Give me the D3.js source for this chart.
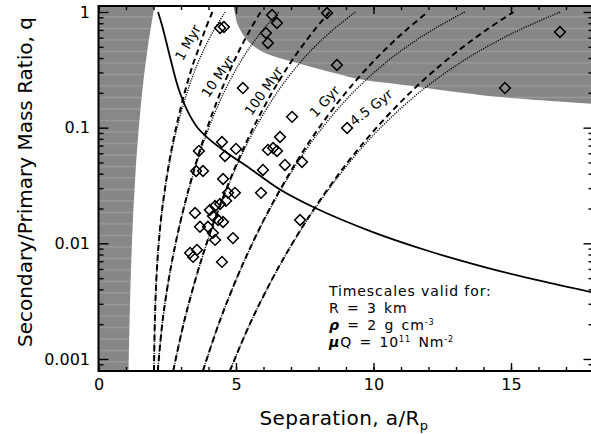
<!DOCTYPE html>
<html><head><meta charset="utf-8">
<script src="https://cdn.jsdelivr.net/npm/d3@7"></script>
<style>body{margin:0;background:#fff}svg{display:block}text{font-family:"DejaVu Sans",sans-serif;fill:#000}</style>
</head><body><svg id="c" width="591" height="434"></svg>
<script>
// ---------- data ----------
const qGrid = [0.00079,0.002,0.005,0.01,0.02,0.05,0.1,0.2,0.35,0.5,0.7,1.0];
const tsLabels = ["1 Myr","10 Myr","100 Myr","1 Gyr","4.5 Gyr"];
const tsDashed = [
  [2.019,2.046,2.106,2.189,2.318,2.568,2.821,3.131,3.430,3.665,3.875,4.142],
  [2.157,2.316,2.561,2.804,3.095,3.551,3.957,4.428,4.868,5.184,5.511,5.895],
  [2.719,3.091,3.539,3.932,4.374,5.044,5.631,6.306,6.935,7.385,7.853,8.400],
  [3.798,4.368,5.027,5.594,6.227,7.185,8.023,8.986,9.883,10.525,11.191,11.971],
  [4.778,5.500,6.334,7.049,7.848,9.056,10.112,11.325,12.456,13.265,14.105,15.088]
];
const tsDotted = [
  [2.019,2.046,2.106,2.191,2.322,2.583,2.858,3.216,3.588,3.879,4.201,4.605],
  [2.157,2.316,2.563,2.808,3.103,3.577,4.015,4.554,5.098,5.517,5.980,6.558],
  [2.719,3.091,3.542,3.938,4.387,5.082,5.714,6.485,7.262,7.861,8.521,9.345],
  [3.798,4.369,5.031,5.602,6.246,7.240,8.141,9.241,10.350,11.202,12.143,13.318],
  [4.778,5.502,6.339,7.059,7.872,9.125,10.261,11.647,13.044,14.119,15.305,16.787]
];
const labelX = [3.25,4.33,6.0,8.22,9.91];
const labelQ = [0.545,0.277,0.2076,0.1684,0.1495];
const labelAngle = [-61,-56,-55,-47,-38];

const solidX = [2.164,2.327,2.6,2.891,3.218,3.582,4.055,4.673,5.509,6.6,8,10,12,14,16,18];
const solidQ = [1.0,0.742,0.408,0.2247,0.1422,0.1014,0.0783,0.0604,0.0444,0.0292,0.0196,0.01244,0.00858,0.00626,0.00477,0.00375];

const leftQ = [1.13,1,0.7,0.5,0.3,0.2,0.1,0.05,0.02,0.01,0.005,0.002,0.001,0.00078];
const leftX = [2.04,2.0,1.888,1.794,1.669,1.585,1.464,1.368,1.271,1.215,1.171,1.126,1.10,1.092];

const grayX = [4.90,4.96,5.04,5.25,5.5,5.85,6.24,7.22,8.42,9.62,10.96,12.16,14.6,18.1];
const grayQ = [1.13,0.98,0.80,0.64,0.54,0.47,0.425,0.362,0.303,0.259,0.236,0.216,0.184,0.160];

const ptX = [4.42,4.56,6.31,6.49,6.09,6.16,8.31,8.67,16.78,14.78,5.25,7.04,9.04,6.60,6.16,6.35,6.49,3.65,4.49,5.00,4.60,3.55,3.80,4.53,4.71,4.96,5.91,5.98,6.78,7.40,7.33,3.51,4.05,4.24,4.42,4.64,4.16,4.35,4.53,3.69,3.98,4.16,4.24,4.89,3.33,3.44,3.58,4.49];
const ptQ = [0.727,0.742,0.942,0.803,0.658,0.540,0.980,0.348,0.671,0.220,0.220,0.124,0.0994,0.0831,0.0642,0.0667,0.0629,0.0629,0.0752,0.0655,0.0569,0.0422,0.0422,0.0360,0.0273,0.0273,0.0273,0.0431,0.0476,0.0505,0.0159,0.0183,0.0194,0.0210,0.0219,0.0233,0.0172,0.0159,0.0153,0.0139,0.0139,0.0123,0.0107,0.0111,0.00826,0.00763,0.00877,0.00691];

const xTickMajor = [0,5,10,15];
const xTickLabels = ["0","5","10","15"];
const yTickMajor = [0.001,0.01,0.1,1];
const yTickLabels = ["0.001","0.01","0.1","1"];

// ---------- scales ----------
const L=98.5, R=593.5, T=6, B=371;
const x = d3.scaleLinear().domain([0,18]).range([L,R]);
const y = d3.scaleLog().domain([0.000787,1.127]).range([B,T]);
const svg = d3.select("#c");

const defs = svg.append("defs");
const pat = defs.append("pattern").attr("id","gp").attr("patternUnits","userSpaceOnUse")
  .attr("width",8).attr("height",11.5);
pat.append("rect").attr("width",8).attr("height",11.5).attr("fill","#878787");
pat.append("rect").attr("y",5).attr("width",8).attr("height",1).attr("fill","#a2a2a2");
defs.append("clipPath").attr("id","clip").append("rect")
  .attr("x",L).attr("y",T).attr("width",R-L).attr("height",B-T);

const plot = svg.append("g").attr("clip-path","url(#clip)");

// left gray region
const leftPts = [[0,leftQ[0]]].concat(leftQ.map((q,i)=>[leftX[i],q])).concat([[0,leftQ[leftQ.length-1]]]);
plot.append("path").attr("fill","url(#gp)")
  .attr("d", d3.line().x(d=>x(d[0])).y(d=>y(d[1])).curve(d3.curveLinear)(leftPts)+"Z");

// top-right gray region
const grayLine = d3.line().x(d=>x(d[0])).y(d=>y(d[1])).curve(d3.curveCatmullRom);
const gp = grayQ.map((q,i)=>[grayX[i],q]);
plot.append("path").attr("fill","url(#gp)")
  .attr("d", grayLine(gp) + "L" + x(18.1) + "," + y(1.13) + "L" + x(4.9) + "," + y(1.13) + "Z");

// timescale curves
const tl = d3.line().x(d=>x(d[0])).y(d=>y(d[1])).curve(d3.curveCatmullRom);
tsDashed.forEach(arr=>{
  plot.append("path").attr("fill","none").attr("stroke","#000").attr("stroke-width",2)
    .attr("stroke-dasharray","6,4").attr("d", tl(arr.map((v,i)=>[v,qGrid[i]])));
});
tsDotted.forEach(arr=>{
  plot.append("path").attr("fill","none").attr("stroke","#000").attr("stroke-width",1.4)
    .attr("stroke-dasharray","1.1,1.3").attr("d", tl(arr.map((v,i)=>[v,qGrid[i]])));
});

// solid curve
plot.append("path").attr("fill","none").attr("stroke","#000").attr("stroke-width",1.8)
  .attr("d", tl(solidX.map((v,i)=>[v,solidQ[i]])));

// diamonds
const sym = d3.symbol().type(d3.symbolSquare).size(58);
plot.selectAll("path.pt").data(ptX.map((v,i)=>[v,ptQ[i]])).enter().append("path")
  .attr("class","pt").attr("d",sym).attr("fill","none").attr("stroke","#000").attr("stroke-width",1.5)
  .attr("transform",d=>`translate(${x(d[0])},${y(d[1])}) rotate(45)`);

// timescale labels
tsLabels.forEach((t,i)=>{
  svg.append("text").attr("font-size",13.5).attr("text-anchor","middle").attr("dy","0.35em")
    .attr("transform",`translate(${x(labelX[i])},${y(labelQ[i])}) rotate(${labelAngle[i]})`).text(t);
});

// annotation
const ax = 329, fs = 14, ls = 0.9;
svg.append("text").attr("font-size",fs).attr("letter-spacing",ls).attr("x",ax).attr("y",296).text("Timescales valid for:");
svg.append("text").attr("font-size",fs).attr("letter-spacing",ls).attr("x",ax).attr("y",313).attr("word-spacing",2).text("R = 3 km");
const t3 = svg.append("text").attr("font-size",fs).attr("letter-spacing",ls).attr("x",ax).attr("y",330).attr("word-spacing",2);
t3.append("tspan").attr("font-style","italic").attr("font-weight","bold").text("ρ");
t3.append("tspan").text(" = 2 g cm");
t3.append("tspan").attr("font-size",8).attr("dy",-5).text("-3");
const t4 = svg.append("text").attr("font-size",fs).attr("letter-spacing",ls).attr("x",ax).attr("y",347).attr("word-spacing",2);
t4.append("tspan").attr("font-style","italic").attr("font-weight","bold").text("μ");
t4.append("tspan").text("Q = 10");
t4.append("tspan").attr("font-size",8).attr("dy",-5).text("11");
t4.append("tspan").attr("dy",5).text(" Nm");
t4.append("tspan").attr("font-size",8).attr("dy",-5).text("-2");

// ---------- axes ----------
const xMinor = d3.range(0,19);
const yMinor = [];
[0.0001,0.001,0.01,0.1].forEach(d=>{for(let k=2;k<=9;k++){const v=d*k; if(v>=0.000787&&v<=1.127) yMinor.push(v);}});

function mk(g, axis){ g.call(axis); g.select(".domain").remove(); g.selectAll("line").attr("stroke","#000").attr("stroke-width",1.4); }

mk(svg.append("g").attr("transform",`translate(0,${B})`), d3.axisBottom(x).tickValues(xMinor).tickSize(-4).tickFormat(""));
mk(svg.append("g").attr("transform",`translate(0,${B})`), d3.axisBottom(x).tickValues(xTickMajor).tickSize(-8).tickPadding(8).tickFormat((d,i)=>xTickLabels[i]));
mk(svg.append("g").attr("transform",`translate(0,${T})`), d3.axisTop(x).tickValues(xMinor).tickSize(-4).tickFormat(""));
mk(svg.append("g").attr("transform",`translate(0,${T})`), d3.axisTop(x).tickValues(xTickMajor).tickSize(-8).tickFormat(""));

mk(svg.append("g").attr("transform",`translate(${L},0)`), d3.axisLeft(y).tickValues(yMinor).tickSize(-5).tickFormat(""));
mk(svg.append("g").attr("transform",`translate(${L},0)`), d3.axisLeft(y).tickValues(yTickMajor).tickSize(-10).tickPadding(8.5).tickFormat((d,i)=>yTickLabels[i]));
mk(svg.append("g").attr("transform",`translate(${R},0)`), d3.axisRight(y).tickValues(yMinor).tickSize(-5).tickFormat(""));
mk(svg.append("g").attr("transform",`translate(${R},0)`), d3.axisRight(y).tickValues(yTickMajor).tickSize(-10).tickFormat(""));

svg.selectAll(".tick text").attr("font-size",16).attr("font-family","DejaVu Sans").attr("fill","#000");

svg.append("rect").attr("x",L).attr("y",T).attr("width",R-L).attr("height",B-T)
  .attr("fill","none").attr("stroke","#000").attr("stroke-width",2);

// titles
const xt = svg.append("text").attr("font-size",20).attr("letter-spacing",0.4).attr("text-anchor","middle").attr("x",344).attr("y",425);
xt.append("tspan").text("Separation, a/R");
xt.append("tspan").attr("font-size",13).attr("dy",5).text("p");
svg.append("text").attr("font-size",20).attr("text-anchor","middle")
  .attr("transform","translate(32,182) rotate(-90)").text("Secondary/Primary Mass Ratio, q");
</script></body></html>
